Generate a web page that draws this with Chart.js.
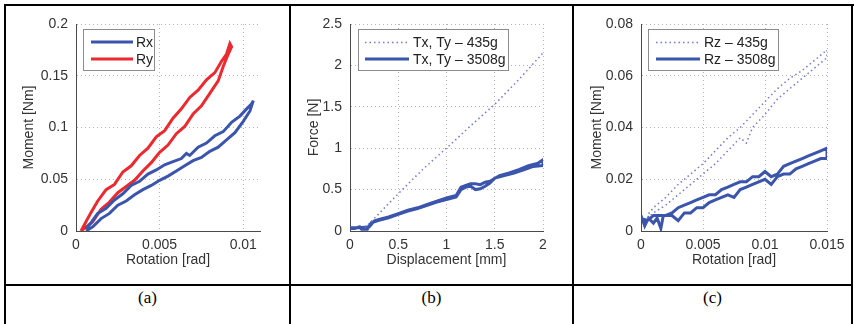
<!DOCTYPE html>
<html>
<head>
<meta charset="utf-8">
<script src="https://cdn.jsdelivr.net/npm/chart.js@4.4.1/dist/chart.umd.min.js"></script>
<style>
  body { margin: 0; background: #fff; }
  #page { position: relative; width: 854px; height: 324px; overflow: hidden; background: #fff; }
  .rule { position: absolute; background: #000; }
  .cell canvas { position: absolute; }
  .cap { position: absolute; top: 288px; height: 24px; line-height: 24px; text-align: center;
         font: 17px "Liberation Serif", "DejaVu Serif", serif; color: #000; }
</style>
</head>
<body>
<div id="page">
  <canvas id="chartA" width="283" height="278" style="position:absolute;left:6px;top:6px;"></canvas>
  <canvas id="chartB" width="281" height="278" style="position:absolute;left:291px;top:6px;"></canvas>
  <canvas id="chartC" width="277" height="278" style="position:absolute;left:574px;top:6px;"></canvas>

  <div class="rule" style="left:4px;top:4px;width:850px;height:2px;"></div>
  <div class="rule" style="left:4px;top:4px;width:2px;height:320px;"></div>
  <div class="rule" style="left:289px;top:4px;width:2px;height:320px;"></div>
  <div class="rule" style="left:572px;top:4px;width:2px;height:320px;"></div>
  <div class="rule" style="left:851px;top:4px;width:2px;height:320px;"></div>
  <div class="rule" style="left:4px;top:284px;width:849px;height:2px;"></div>

  <div class="cap" style="left:6px;width:283px;">(a)</div>
  <div class="cap" style="left:291px;width:281px;">(b)</div>
  <div class="cap" style="left:574px;width:277px;">(c)</div>
</div>
<script>
// ---- panel (a): rotational stiffness, Rx / Ry loops
const rxRot = [0.0006, 0.0010, 0.0015, 0.0020, 0.0025, 0.0030, 0.0035, 0.0040, 0.0045, 0.0050, 0.0055,
  0.0060, 0.0065, 0.0070, 0.0075, 0.0080, 0.0085, 0.0090, 0.0095, 0.0100, 0.0104, 0.0106,
  0.0105, 0.0102, 0.0098, 0.0093, 0.0088, 0.0083, 0.0078, 0.0073, 0.0068, 0.0066, 0.0063, 0.0058,
  0.0053, 0.0048, 0.0043, 0.0038, 0.0033, 0.0028, 0.0023, 0.0018, 0.0013, 0.0009, 0.0006];
const rxMom = [0.000, 0.004, 0.012, 0.017, 0.025, 0.029, 0.035, 0.040, 0.044, 0.049, 0.053,
  0.058, 0.063, 0.068, 0.071, 0.077, 0.081, 0.088, 0.095, 0.106, 0.116, 0.126,
  0.123, 0.118, 0.111, 0.105, 0.096, 0.092, 0.085, 0.081, 0.073, 0.075, 0.070, 0.067,
  0.064, 0.059, 0.055, 0.048, 0.044, 0.036, 0.030, 0.022, 0.017, 0.008, 0.002];
const ryRot = [0.0003, 0.0007, 0.0010, 0.0015, 0.0020, 0.0025, 0.0030, 0.0035, 0.0040, 0.0045, 0.0050,
  0.0055, 0.0060, 0.0065, 0.0070, 0.0075, 0.0080, 0.0085, 0.0088, 0.0091, 0.0093,
  0.0092, 0.0090, 0.0087, 0.0083, 0.0078, 0.0073, 0.0068, 0.0063, 0.0058, 0.0053, 0.0048,
  0.0043, 0.0038, 0.0033, 0.0028, 0.0023, 0.0018, 0.0013, 0.0009, 0.0005, 0.0003];
const ryMom = [0.000, 0.005, 0.009, 0.021, 0.028, 0.037, 0.043, 0.049, 0.058, 0.066, 0.076,
  0.083, 0.094, 0.101, 0.113, 0.121, 0.133, 0.145, 0.159, 0.171, 0.178,
  0.181, 0.171, 0.164, 0.153, 0.146, 0.136, 0.129, 0.118, 0.109, 0.097, 0.091,
  0.080, 0.073, 0.063, 0.057, 0.045, 0.040, 0.029, 0.018, 0.006, 0.000];
const rotTicksA = [0, 0.005, 0.01];
const rotLabelsA = ['0', '0.005', '0.01'];
const momTicksA = [0, 0.05, 0.1, 0.15, 0.2];
const momLabelsA = ['0', '0.05', '0.1', '0.15', '0.2'];

// ---- panel (b): translational stiffness, two payloads
const t435Disp = [0.12, 0.25, 0.50, 0.75, 1.00, 1.25, 1.50, 1.75, 2.00];
const t435Force = [0.00, 0.15, 0.45, 0.74, 1.00, 1.27, 1.53, 1.83, 2.15];
const t3508Disp = [0.00, 0.05, 0.10, 0.12, 0.18, 0.22, 0.30, 0.40, 0.50, 0.60, 0.70, 0.80, 0.90, 1.00,
  1.10, 1.15, 1.20, 1.25, 1.30, 1.35, 1.40, 1.45, 1.50, 1.60, 1.70, 1.80, 1.90, 2.00, 2.00,
  1.95, 1.85, 1.75, 1.65, 1.55, 1.45, 1.40, 1.35, 1.30, 1.25, 1.20, 1.15, 1.10, 1.00,
  0.90, 0.80, 0.70, 0.60, 0.50, 0.40, 0.30, 0.25, 0.20, 0.10, 0.00];
const t3508Force = [0.03, 0.03, 0.05, 0.02, 0.02, 0.10, 0.13, 0.16, 0.20, 0.24, 0.27, 0.31, 0.35, 0.38,
  0.41, 0.50, 0.53, 0.54, 0.50, 0.51, 0.54, 0.58, 0.64, 0.67, 0.70, 0.74, 0.78, 0.79, 0.86,
  0.82, 0.79, 0.74, 0.70, 0.67, 0.60, 0.59, 0.56, 0.57, 0.57, 0.55, 0.53, 0.43, 0.40,
  0.36, 0.32, 0.28, 0.25, 0.21, 0.17, 0.14, 0.12, 0.05, 0.04, 0.04];
const dispTicks = [0, 0.5, 1, 1.5, 2];
const dispLabels = ['0', '0.5', '1', '1.5', '2'];
const forceTicks = [0, 0.5, 1, 1.5, 2, 2.5];
const forceLabels = ['0', '0.5', '1', '1.5', '2', '2.5'];

// ---- panel (c): torsional stiffness, two payloads
const rz435Rot = [0.0005, 0.0010, 0.0020, 0.0030, 0.0040, 0.0050, 0.0060, 0.0070, 0.0080, 0.0085, 0.0090,
  0.0100, 0.0110, 0.0120, 0.0130, 0.0140, 0.0150,
  0.0150, 0.0140, 0.0130, 0.0120, 0.0110, 0.0100, 0.0090, 0.0080, 0.0070, 0.0060, 0.0050,
  0.0040, 0.0030, 0.0020, 0.0010, 0.0005];
const rz435Mom = [0.005, 0.007, 0.010, 0.014, 0.018, 0.022, 0.026, 0.031, 0.036, 0.034, 0.040,
  0.045, 0.051, 0.055, 0.059, 0.063, 0.067,
  0.070, 0.066, 0.062, 0.059, 0.055, 0.050, 0.045, 0.040, 0.036, 0.031, 0.026,
  0.022, 0.018, 0.013, 0.009, 0.006];
const rz3508Rot = [0.0000, 0.0003, 0.0006, 0.0010, 0.0013, 0.0016, 0.0018, 0.0025, 0.0030, 0.0035, 0.0040,
  0.0045, 0.0050, 0.0055, 0.0060, 0.0065, 0.0070, 0.0075, 0.0080, 0.0085, 0.0090, 0.0095,
  0.0100, 0.0105, 0.0110, 0.0115, 0.0120, 0.0125, 0.0130, 0.0135, 0.0140, 0.0145, 0.0150,
  0.0150, 0.0145, 0.0140, 0.0135, 0.0130, 0.0125, 0.0120, 0.0115, 0.0110, 0.0105, 0.0100,
  0.0095, 0.0090, 0.0085, 0.0080, 0.0075, 0.0070, 0.0065, 0.0060, 0.0055, 0.0050, 0.0045,
  0.0040, 0.0035, 0.0030, 0.0025, 0.0020, 0.0015, 0.0010, 0.0005, 0.0000];
const rz3508Mom = [0.006, 0.002, 0.005, 0.003, 0.005, 0.001, 0.006, 0.006, 0.004, 0.007, 0.007,
  0.009, 0.009, 0.011, 0.012, 0.013, 0.014, 0.013, 0.016, 0.017, 0.018, 0.019,
  0.020, 0.018, 0.021, 0.022, 0.022, 0.024, 0.025, 0.026, 0.027, 0.028, 0.028,
  0.032, 0.031, 0.030, 0.029, 0.028, 0.027, 0.026, 0.025, 0.022, 0.021, 0.023,
  0.021, 0.021, 0.019, 0.019, 0.018, 0.017, 0.016, 0.014, 0.014, 0.013, 0.012,
  0.011, 0.010, 0.009, 0.007, 0.006, 0.006, 0.006, 0.004, 0.005];
const rotTicksC = [0, 0.005, 0.01, 0.015];
const rotLabelsC = ['0', '0.005', '0.01', '0.015'];
const momTicksC = [0, 0.02, 0.04, 0.06, 0.08];
const momLabelsC = ['0', '0.02', '0.04', '0.06', '0.08'];

const BLUE = '#3b55ad';
const RED = '#ea2a2f';
const DOT_BLUE = '#6a7ed0';
const FONT = '"Liberation Sans", Arial, sans-serif';

const toPoints = (xs, ys) => xs.map((x, i) => ({ x: x, y: ys[i] }));

// legend drawn as a framed box inside the plot area (MATLAB style)
const boxLegend = {
  id: 'boxLegend',
  afterDatasetsDraw(chart, args, opts) {
    const ctx = chart.ctx;
    const area = chart.chartArea;
    const x = Math.round(area.left + opts.dx);
    const y = Math.round(area.top + opts.dy);
    ctx.save();
    ctx.fillStyle = '#fff';
    ctx.fillRect(x, y, opts.w, opts.h);
    ctx.strokeStyle = '#8c8c8c';
    ctx.lineWidth = 1;
    ctx.strokeRect(x + 0.5, y + 0.5, opts.w, opts.h);
    chart.data.datasets.forEach((ds, i) => {
      const cy = y + opts.rowY[i];
      ctx.strokeStyle = ds.borderColor;
      ctx.lineWidth = ds.borderWidth;
      ctx.setLineDash(ds.borderDash || []);
      ctx.beginPath();
      ctx.moveTo(x + opts.lineX[0], cy);
      ctx.lineTo(x + opts.lineX[1], cy);
      ctx.stroke();
      ctx.setLineDash([]);
      ctx.fillStyle = '#222';
      ctx.font = '14px ' + FONT;
      ctx.textBaseline = 'middle';
      ctx.fillText(ds.label, x + opts.textX, cy + 1);
    });
    ctx.restore();
  }
};

function axis(ticks, labels, title, fitSize, isX) {
  return {
    type: 'linear',
    min: ticks[0],
    max: isX && title === 'Rotation [rad]' && ticks.length === 3 ? 0.011 : ticks[ticks.length - 1],
    afterBuildTicks: s => { s.ticks = ticks.map(v => ({ value: v })); },
    afterFit: s => { if (isX) s.height = fitSize; else s.width = fitSize; },
    grid: { color: '#b4b4b4', lineWidth: 1, drawTicks: false },
    border: { display: true, color: '#4a4a4a', width: 1, dash: [1, 3] },
    ticks: {
      color: '#333',
      padding: isX ? 6 : 8,
      maxRotation: 0,
      autoSkip: false,
      font: { family: FONT, size: 14 },
      callback: (v, i) => labels[i]
    },
    title: {
      display: true,
      text: title,
      color: '#333',
      font: { family: FONT, size: 14, lineHeight: 1.2 },
      padding: isX ? { top: 0, bottom: 15 } : { top: 15, bottom: 0 }
    }
  };
}

function makeChart(id, datasets, xAxis, yAxis, padRight, legend) {
  return new Chart(document.getElementById(id), {
    type: 'scatter',
    data: { datasets: datasets },
    options: {
      responsive: false,
      animation: false,
      devicePixelRatio: 1,
      layout: { padding: { top: 18, right: padRight, bottom: 0, left: 0 } },
      plugins: { legend: { display: false }, tooltip: { enabled: false }, boxLegend: legend },
      scales: { x: xAxis, y: yAxis }
    },
    plugins: [boxLegend]
  });
}

function series(label, xs, ys, color, width, dash) {
  return {
    label: label,
    data: toPoints(xs, ys),
    showLine: true,
    borderColor: color,
    backgroundColor: color,
    borderWidth: width,
    borderDash: dash,
    pointRadius: 0,
    tension: 0,
    fill: false
  };
}

makeChart('chartA',
  [series('Rx', rxRot, rxMom, BLUE, 3, []),
   series('Ry', ryRot, ryMom, RED, 3, [])],
  axis(rotTicksA, rotLabelsA, 'Rotation [rad]', 53, true),
  axis(momTicksA, momLabelsA, 'Moment [Nm]', 70, false),
  29,
  { dx: 7, dy: 5, w: 71, h: 41, rowY: [13, 30], lineX: [8, 50], textX: 53 });

makeChart('chartB',
  [series('Tx, Ty \u2013 435g', t435Disp, t435Force, DOT_BLUE, 1.5, [1.5, 3]),
   series('Tx, Ty \u2013 3508g', t3508Disp, t3508Force, BLUE, 3, [])],
  axis(dispTicks, dispLabels, 'Displacement [mm]', 53, true),
  axis(forceTicks, forceLabels, 'Force [N]', 59, false),
  29,
  { dx: 8, dy: 5, w: 150, h: 41, rowY: [13.5, 30], lineX: [7, 51], textX: 55 });

makeChart('chartC',
  [series('Rz \u2013 435g', rz435Rot, rz435Mom, DOT_BLUE, 1.5, [1.5, 3]),
   series('Rz \u2013 3508g', rz3508Rot, rz3508Mom, BLUE, 3, [])],
  axis(rotTicksC, rotLabelsC, 'Rotation [rad]', 53, true),
  axis(momTicksC, momLabelsC, 'Moment [Nm]', 67, false),
  24,
  { dx: 7, dy: 5, w: 130, h: 41, rowY: [13.5, 30], lineX: [8, 52], textX: 56 });
</script>
</body>
</html>
